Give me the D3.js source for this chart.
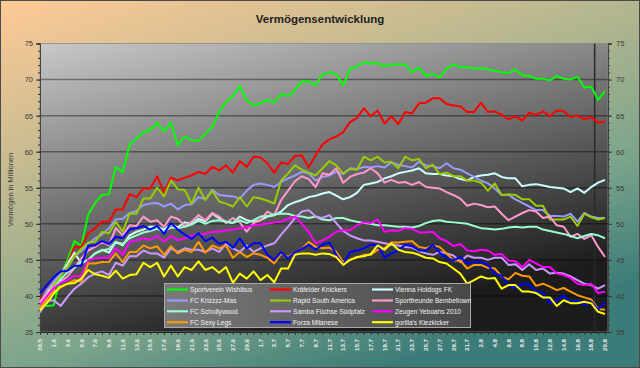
<!DOCTYPE html>
<html>
<head>
<meta charset="utf-8">
<script src="https://d3js.org/d3.v7.min.js"></script>
<style>
  body { margin: 0; }
  svg { display: block; font-family: "Liberation Sans", Arial, sans-serif; }
</style>
</head>
<body>
<div id="chart"></div>
<script>

// categories: one point per day, 30.5 - 20.8
const dates = d3.timeDay.range(new Date(2010, 4, 30), new Date(2010, 7, 21)).map(d3.timeFormat("%-d.%-m"));

// y axis ticks (left and right are the same)
const yTicks = [35, 40, 45, 50, 55, 60, 65, 70, 75];
const gridTicks = [40, 45, 50, 55, 60, 65, 70];

// the dark vertical marker sits between these two days
const markerDates = ["18.8", "19.8"];

const teams = [
    "Sportverein Wishibus", "Kräfelder Knickers", "Vienna Hotdogs FK",
    "FC Krizzzz-Mas", "Rapid South America", "Sportfreunde Bembeltown",
    "FC Schollywood", "Samba Füchse Südpfalz", "Zeugen Yeboahs 2010",
    "FC Sexy Legs", "Forza Milanese", "gorilla's Kiezkicker"
];
const teamColors = [
    "#00ff00", "#ff0000", "#ccffff",
    "#9999ff", "#99cc00", "#ff99cc",
    "#99ffcc", "#cc99ff", "#ff00ff",
    "#ff9900", "#0000ff", "#ffff00"
];

// values in millions
const wishibus = [38.8, 38.6, 38.7, 42.8, 45.0, 47.6, 46.9, 51.3, 52.9, 54.0,
    54.1, 57.9, 57.1, 61.0, 61.8, 62.7, 63.0, 64.0, 62.8, 64.0,
    60.9, 62.1, 61.6, 61.5, 62.5, 63.4, 65.5, 66.9, 67.7, 69.1,
    67.1, 66.4, 66.7, 67.2, 66.8, 68.0, 67.7, 68.5, 69.8, 69.7,
    69.2, 70.7, 71.0, 70.7, 69.2, 71.5, 71.8, 72.4, 72.2, 72.3,
    71.8, 72.1, 72.1, 72.1, 71.0, 71.7, 70.5, 70.8, 70.3, 71.5,
    72.1, 71.7, 71.7, 71.5, 71.6, 71.4, 71.2, 71.0, 70.9, 71.4,
    70.6, 70.5, 70.1, 70.1, 69.9, 70.5, 70.1, 70.0, 70.4, 68.9,
    69.0, 67.2, 68.4];
const knickers = [39.4, 40.8, 42.0, 43.0, 44.5, 46.8, 46.8, 48.7, 49.4, 50.3,
    50.3, 52.0, 52.0, 54.1, 53.7, 54.9, 54.9, 56.6, 54.3, 56.4,
    56.0, 56.4, 56.7, 57.2, 56.9, 57.9, 57.4, 58.1, 57.1, 58.7,
    57.9, 59.3, 59.2, 58.4, 57.1, 58.5, 58.3, 59.4, 59.5, 57.8,
    59.5, 61.0, 61.7, 62.1, 62.7, 64.1, 64.7, 66.0, 64.9, 65.7,
    63.9, 64.9, 63.8, 65.5, 65.3, 66.7, 66.8, 67.4, 67.4, 66.6,
    66.4, 66.3, 65.5, 65.5, 66.8, 65.5, 65.6, 65.1, 64.5, 64.9,
    64.3, 65.4, 65.1, 65.6, 64.9, 65.7, 65.6, 64.8, 65.0, 64.5,
    64.8, 64.0, 64.2];
const hotdogs = [39.0, 40.5, 41.8, 43.0, 44.5, 46.0, 44.5, 45.0, 45.9, 46.4,
    46.0, 47.5, 47.0, 48.4, 48.9, 49.2, 49.6, 49.6, 49.2, 49.9,
    49.5, 50.2, 50.0, 50.7, 50.3, 51.4, 50.8, 50.3, 50.1, 51.0,
    50.5, 50.3, 50.5, 51.0, 51.2, 51.7, 52.6, 53.0, 53.3, 53.7,
    53.9, 54.2, 54.4, 53.9, 53.4, 53.7, 54.3, 55.4, 55.6, 55.8,
    56.3, 56.6, 57.0, 57.2, 57.4, 57.7, 57.0, 56.9, 56.9, 56.7,
    56.6, 56.2, 56.0, 56.5, 56.7, 56.8, 57.0, 56.5, 56.3, 56.3,
    55.2, 55.4, 55.5, 55.3, 55.1, 55.0, 54.9, 54.4, 54.9, 54.3,
    55.1, 55.7, 56.1];
const krizzzz = [39.0, 40.8, 42.0, 43.2, 44.0, 45.5, 46.2, 47.2, 48.0, 48.5,
    49.4, 50.6, 50.7, 51.5, 51.8, 52.6, 52.8, 52.9, 52.4, 52.8,
    52.0, 52.6, 52.7, 53.7, 53.4, 54.7, 54.0, 53.9, 53.8, 53.5,
    54.6, 55.4, 55.6, 55.4, 55.1, 55.8, 56.3, 56.7, 57.2, 57.0,
    56.0, 56.5, 56.7, 57.2, 56.9, 57.7, 57.6, 57.9, 57.8, 58.0,
    57.8, 58.5, 58.2, 58.0, 57.8, 58.6, 58.1, 58.0, 57.7, 58.4,
    57.7, 57.5, 57.0, 56.5, 56.0, 55.6, 54.9, 54.0, 54.0, 53.4,
    52.9, 52.4, 51.9, 51.9, 51.1, 51.1, 51.0, 51.4, 50.3, 51.5,
    51.0, 50.8, 50.8];
const rapid = [38.3, 40.0, 41.5, 42.8, 44.0, 45.5, 46.5, 47.4, 47.5, 48.9,
    48.7, 50.3, 48.9, 51.4, 51.4, 53.5, 53.5, 55.0, 53.8, 56.0,
    54.8, 54.7, 52.8, 55.0, 53.3, 54.6, 53.1, 52.8, 52.4, 53.7,
    52.4, 53.7, 53.5, 53.2, 52.8, 56.0, 57.0, 58.1, 57.5, 57.1,
    56.7, 57.7, 58.7, 58.1, 57.0, 57.6, 57.5, 59.3, 58.8, 59.3,
    58.5, 58.6, 57.7, 59.3, 58.8, 59.0, 57.7, 58.2, 56.9, 57.1,
    56.6, 56.6, 56.0, 56.0, 55.7, 54.6, 55.6, 54.0, 54.1, 54.0,
    53.4, 53.4, 52.5, 52.5, 50.6, 50.6, 50.6, 51.0, 49.7, 51.4,
    50.9, 50.6, 50.8];
const bembeltown = [39.2, 40.2, 41.2, 42.0, 42.7, 43.9, 45.2, 46.3, 46.8, 47.5,
    47.0, 49.4, 48.4, 49.8, 49.7, 51.0, 50.3, 50.5, 49.6, 51.0,
    50.7, 49.7, 50.3, 51.2, 50.5, 51.5, 51.0, 50.1, 50.8, 50.2,
    48.9, 50.1, 50.5, 51.7, 51.2, 53.3, 54.6, 55.9, 56.6, 56.2,
    55.1, 57.0, 56.8, 57.7, 55.7, 56.5, 56.9, 57.1, 57.7, 57.0,
    55.7, 56.1, 55.7, 55.8, 55.4, 55.8, 55.1, 55.0, 54.9, 54.4,
    54.0, 53.5, 52.5, 52.8, 52.6, 52.3, 52.4, 51.4, 50.5, 51.0,
    51.5, 51.9, 51.7, 50.8, 51.0, 49.8, 49.6, 48.2, 48.6, 47.9,
    48.4, 46.8, 45.4];
const schollywood = [38.5, 39.8, 41.0, 42.3, 43.3, 44.0, 44.7, 45.0, 45.9, 46.3,
    46.5, 47.5, 47.2, 48.0, 48.4, 48.8, 49.0, 49.3, 48.9, 49.5,
    49.4, 49.6, 49.9, 50.4, 50.0, 50.4, 50.5, 50.3, 50.1, 50.5,
    50.1, 50.5, 51.0, 51.1, 51.3, 51.4, 51.4, 51.1, 51.0, 50.8,
    51.0, 50.6, 50.5, 50.8, 50.8, 50.5, 50.3, 50.1, 50.0, 49.8,
    49.8, 49.7, 49.6, 49.6, 49.5, 49.7, 50.1, 50.4, 50.5, 50.3,
    50.2, 50.1, 50.0, 49.7, 49.4, 49.3, 49.2, 49.3, 49.5, 49.6,
    49.5, 49.6, 49.6, 49.2, 49.0, 48.8, 48.6, 48.3, 48.0, 48.3,
    48.6, 48.4, 48.0];
const samba = [37.7, 39.3, 39.4, 38.6, 39.9, 41.0, 41.7, 42.6, 43.1, 43.4,
    42.9, 44.6, 44.2, 45.5, 45.5, 46.3, 45.9, 45.9, 45.3, 46.6,
    46.1, 46.6, 46.4, 46.4, 46.1, 46.6, 46.1, 47.2, 46.6, 46.1,
    47.0, 46.1, 46.6, 47.0, 47.3, 48.5, 49.6, 50.8, 51.7, 51.9,
    51.0, 50.8, 51.2, 50.1, 49.0, 48.4, 48.0, 47.7, 47.7, 47.5,
    47.3, 47.1, 47.0, 46.8, 46.7, 46.2, 45.9, 45.7, 46.1, 45.9,
    45.6, 44.7, 45.6, 45.3, 45.3, 45.0, 45.3, 45.3, 44.3, 44.4,
    43.6, 44.4, 43.6, 43.8, 43.1, 43.2, 43.1, 42.7, 42.2, 41.7,
    41.5, 41.0, 41.5];
const yeboahs = [38.7, 39.9, 41.1, 41.8, 42.2, 42.8, 42.7, 45.0, 45.2, 45.3,
    45.3, 46.6, 45.7, 47.5, 47.7, 48.0, 47.8, 48.3, 47.5, 48.3,
    47.7, 48.0, 48.3, 48.6, 48.6, 48.9, 48.9, 49.1, 49.2, 49.4,
    49.5, 49.8, 49.9, 50.0, 50.2, 50.3, 50.7, 51.0, 50.0, 48.9,
    47.3, 47.7, 48.2, 48.9, 49.1, 49.1, 49.8, 50.2, 50.1, 50.6,
    48.9, 49.1, 49.0, 49.4, 49.3, 48.8, 48.8, 48.9, 48.0, 47.6,
    46.9, 47.2, 46.3, 46.2, 46.4, 46.3, 45.7, 45.8, 44.9, 44.8,
    44.0, 45.0, 44.5, 44.0, 44.0, 43.1, 42.9, 42.5, 41.7, 41.5,
    41.7, 40.4, 40.6];
const sexyLegs = [38.3, 39.6, 40.6, 41.2, 41.7, 42.2, 42.0, 44.5, 44.5, 44.7,
    44.7, 45.9, 44.7, 46.1, 46.1, 47.0, 46.6, 46.9, 45.7, 46.9,
    45.9, 46.4, 46.1, 47.5, 46.0, 47.0, 46.6, 47.0, 45.3, 46.1,
    45.4, 45.9, 45.7, 45.3, 44.5, 45.9, 45.4, 46.1, 46.5, 47.5,
    46.8, 46.6, 46.7, 46.1, 44.7, 45.0, 45.3, 45.7, 45.7, 46.4,
    46.6, 47.4, 47.4, 47.5, 47.6, 46.8, 46.6, 47.0, 46.8, 45.9,
    44.9, 44.9, 43.8, 44.3, 44.3, 43.9, 43.8, 42.7, 42.3, 43.2,
    42.8, 42.7, 41.4, 41.7, 41.3, 40.8, 41.1, 40.6, 40.1, 39.8,
    39.5, 38.2, 38.1];
const milanese = [40.4, 41.5, 42.6, 43.4, 43.5, 44.2, 44.2, 47.0, 47.0, 47.6,
    47.2, 48.2, 48.0, 49.2, 49.4, 49.7, 49.2, 49.7, 48.6, 50.1,
    49.2, 48.5, 47.9, 48.7, 47.6, 48.1, 47.2, 47.5, 46.7, 48.0,
    46.6, 47.3, 47.3, 45.7, 45.0, 46.1, 45.2, 46.1, 46.5, 47.1,
    46.4, 47.1, 47.4, 45.7, 44.3, 46.1, 46.3, 46.6, 47.1, 47.1,
    45.3, 45.9, 46.3, 47.1, 46.9, 46.3, 46.3, 47.1, 46.0, 45.3,
    44.9, 45.4, 44.5, 44.7, 44.7, 44.3, 43.1, 42.8, 41.5, 41.1,
    41.7, 41.6, 40.6, 40.4, 39.0, 39.4, 40.0, 39.1, 39.4, 38.7,
    39.2, 38.1, 39.1];
const kiezkicker = [38.0, 39.0, 40.3, 41.3, 41.7, 41.8, 42.4, 43.6, 43.0, 42.8,
    42.5, 43.5, 42.4, 42.9, 43.0, 44.6, 44.0, 44.6, 42.7, 44.2,
    42.7, 44.0, 43.6, 44.8, 43.6, 44.0, 43.2, 44.0, 41.8, 43.1,
    42.4, 43.4, 42.2, 42.9, 41.9, 43.8, 43.8, 45.7, 45.9, 45.9,
    45.7, 45.9, 45.8, 45.4, 44.3, 45.0, 45.4, 45.5, 45.8, 47.0,
    46.4, 47.3, 46.4, 46.1, 46.0, 45.7, 45.3, 45.2, 44.7, 44.5,
    43.8, 43.1, 41.7, 42.2, 42.7, 42.4, 42.5, 41.0, 41.5, 41.5,
    40.6, 40.6, 40.4, 39.8, 39.8, 38.6, 39.4, 39.0, 39.0, 39.2,
    39.0, 37.8, 37.5];

const teamValues = [wishibus, knickers, hotdogs, krizzzz, rapid, bembeltown,
    schollywood, samba, yeboahs, sexyLegs, milanese, kiezkicker];


class LineVis {

    constructor(parentElement) {
        this.parentElement = parentElement;
        this.displayData = teams.map((name, i) => ({name: name, color: teamColors[i], values: teamValues[i]}));
        this.initVis();
    }

    initVis() {
        let vis = this;

        vis.width = 640;
        vis.height = 368;
        vis.plot = {left: 40, right: 608, top: 43.5, bottom: 332};

        vis.svg = d3.select("#" + vis.parentElement)
            .append("svg")
            .attr("width", vis.width)
            .attr("height", vis.height);

        let defs = vis.svg.append("defs");

        // outer background: peach top left -> teal bottom right
        let bg = defs.append("linearGradient").attr("id", "bgGrad")
            .attr("x1", 0).attr("y1", 0).attr("x2", 0.6).attr("y2", 1);
        bg.append("stop").attr("offset", 0).attr("stop-color", "#ffca96");
        bg.append("stop").attr("offset", 0.45).attr("stop-color", "#b3b68f");
        bg.append("stop").attr("offset", 0.75).attr("stop-color", "#7ba48b");
        bg.append("stop").attr("offset", 1).attr("stop-color", "#3c7c78");

        // plot area: light grey -> almost black
        let pg = defs.append("linearGradient").attr("id", "plotGrad")
            .attr("x1", 0).attr("y1", 0).attr("x2", 0.45).attr("y2", 1);
        pg.append("stop").attr("offset", 0).attr("stop-color", "#c8c8c8");
        pg.append("stop").attr("offset", 1).attr("stop-color", "#1c1c1c");

        let lg = defs.append("linearGradient").attr("id", "legendGrad")
            .attr("x1", 0).attr("y1", 0).attr("x2", 1).attr("y2", 0);
        lg.append("stop").attr("offset", 0).attr("stop-color", "#7a7a7a");
        lg.append("stop").attr("offset", 1).attr("stop-color", "#484848");

        vis.svg.append("rect")
            .attr("x", 0.5).attr("y", 0.5)
            .attr("width", vis.width - 1).attr("height", vis.height - 1)
            .attr("fill", "url(#bgGrad)")
            .attr("stroke", "#4a4a4a");

        vis.svg.append("rect")
            .attr("x", vis.plot.left).attr("y", vis.plot.top)
            .attr("width", vis.plot.right - vis.plot.left)
            .attr("height", vis.plot.bottom - vis.plot.top)
            .attr("fill", "url(#plotGrad)")
            .attr("stroke", "#8a8a8a")
            .attr("stroke-width", 0.8);

        // scales
        vis.x = d3.scalePoint().domain(dates).range([40, 605]);
        vis.y = d3.scaleLinear().domain([35, 75]).range([vis.plot.bottom, vis.plot.top]);

        // grid lines
        vis.svg.append("g").attr("class", "grid")
            .selectAll("line")
            .data(gridTicks)
            .enter()
            .append("line")
            .attr("x1", vis.plot.left).attr("x2", vis.plot.right)
            .attr("y1", d => vis.y(d)).attr("y2", d => vis.y(d))
            .attr("stroke", "#000")
            .attr("stroke-opacity", 0.4)
            .attr("stroke-width", 1.5);

        // title
        vis.svg.append("text")
            .attr("x", 320).attr("y", 23)
            .attr("text-anchor", "middle")
            .attr("font-size", 11.5)
            .attr("font-weight", "bold")
            .attr("fill", "#1e1e1e")
            .text("Vermögensentwicklung");

        vis.svg.append("text")
            .attr("transform", `translate(13, ${(vis.plot.top + vis.plot.bottom) / 2 + 2}) rotate(-90)`)
            .attr("text-anchor", "middle")
            .attr("font-size", 7.5)
            .attr("fill", "#3a3a3a")
            .text("Vermögen in Millionen");

        vis.drawAxes();
        vis.updateVis();
    }

    drawAxes() {
        let vis = this;
        let minor = d3.range(35, 76);

        let styleAxis = g => {
            g.select(".domain").attr("stroke", "#444");
            g.selectAll(".tick line").attr("stroke", "#333");
            g.selectAll("text").attr("fill", "#3a3a3a").attr("font-size", 7.5)
                .attr("font-family", "Liberation Sans, Arial, sans-serif");
        };

        // left
        vis.svg.append("g")
            .attr("transform", `translate(${vis.plot.left},0)`)
            .call(d3.axisLeft(vis.y).tickValues(minor).tickSize(2).tickFormat(""))
            .call(styleAxis);
        vis.svg.append("g")
            .attr("transform", `translate(${vis.plot.left},0)`)
            .call(d3.axisLeft(vis.y).tickValues(yTicks).tickSize(4).tickPadding(3))
            .call(styleAxis);

        // right
        vis.svg.append("g")
            .attr("transform", `translate(${vis.plot.right},0)`)
            .call(d3.axisRight(vis.y).tickValues(minor).tickSize(2).tickFormat(""))
            .call(styleAxis);
        vis.svg.append("g")
            .attr("transform", `translate(${vis.plot.right},0)`)
            .call(d3.axisRight(vis.y).tickValues(yTicks).tickSize(4).tickPadding(4))
            .call(styleAxis);

        // bottom: tick on every day, label on every second one
        let xAxis = vis.svg.append("g")
            .attr("transform", `translate(0,${vis.plot.bottom})`)
            .call(d3.axisBottom(vis.x).tickSize(3).tickFormat(""))
            .call(styleAxis);
        xAxis.select(".domain").attr("d", `M${vis.plot.left},0.5H${vis.plot.right}`).attr("stroke", "#222");

        vis.svg.append("g")
            .selectAll("text")
            .data(dates.filter((d, i) => i % 2 === 0))
            .enter()
            .append("text")
            .attr("transform", d => `translate(${vis.x(d)}, ${vis.plot.bottom + 7}) rotate(-90)`)
            .attr("text-anchor", "end")
            .attr("dy", "0.35em")
            .attr("font-size", 6.2)
            .attr("font-weight", "bold")
            .attr("fill", "#eeeeee")
            .text(d => d);
    }

    updateVis() {
        let vis = this;

        // vertical marker
        let mx = (vis.x(markerDates[0]) + vis.x(markerDates[1])) / 2;
        vis.svg.append("line")
            .attr("x1", mx).attr("x2", mx)
            .attr("y1", vis.plot.top).attr("y2", vis.plot.bottom)
            .attr("stroke", "#2a2a2a")
            .attr("stroke-width", 1.5);

        let line = d3.line()
            .x((d, i) => vis.x(dates[i]))
            .y(d => vis.y(d));

        vis.svg.append("g")
            .selectAll(".team")
            .data(vis.displayData)
            .enter()
            .append("path")
            .attr("class", "team")
            .attr("fill", "none")
            .attr("stroke", d => d.color)
            .attr("stroke-width", 2)
            .attr("stroke-linejoin", "round")
            .attr("d", d => line(d.values));

        // legend, 3 columns x 4 rows
        let legend = vis.svg.append("g").attr("class", "legend");
        legend.append("rect")
            .attr("x", 164.5).attr("y", 283.5)
            .attr("width", 306).attr("height", 44)
            .attr("fill", "url(#legendGrad)")
            .attr("stroke", "#a8a8a8")
            .attr("stroke-width", 1);

        let colX = [167, 270, 372];
        let rowY = [289.5, 300.5, 311.3, 322.2];

        let entries = legend.selectAll(".entry")
            .data(vis.displayData)
            .enter()
            .append("g")
            .attr("class", "entry")
            .attr("transform", (d, i) => `translate(${colX[i % 3]}, ${rowY[Math.floor(i / 3)]})`);

        entries.append("line")
            .attr("x1", 0).attr("x2", 21)
            .attr("stroke", d => d.color)
            .attr("stroke-width", 2.2);

        entries.append("text")
            .attr("x", 23)
            .attr("dy", "0.35em")
            .attr("font-size", 6.6)
            .attr("fill", "#f2f2f2")
            .text(d => d.name);
    }
}

new LineVis("chart");

</script>
</body>
</html>
